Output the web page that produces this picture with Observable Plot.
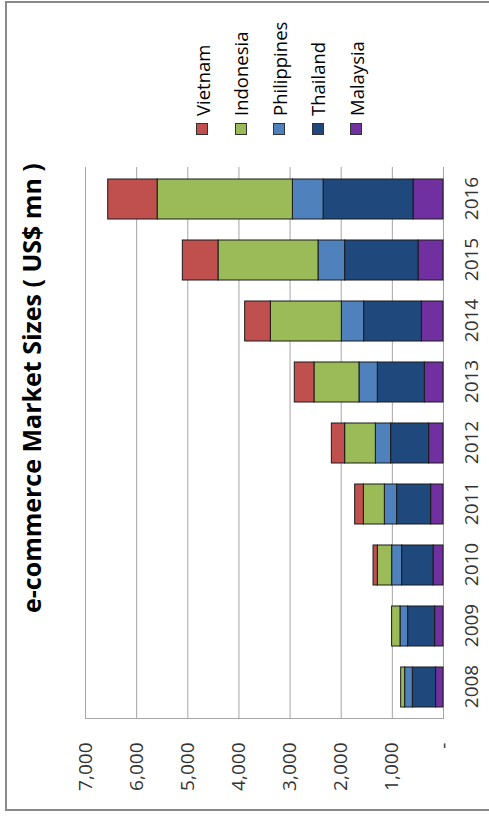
<!DOCTYPE html>
<html>
<head>
<meta charset="utf-8">
<script src="https://cdn.jsdelivr.net/npm/d3@7"></script>
<script src="https://cdn.jsdelivr.net/npm/@observablehq/plot@0.6"></script>
<style>
  html, body { margin: 0; padding: 0; background: #fff; overflow: hidden; width: 489px; height: 816px; }
  #rot { position: absolute; left: 0; top: 0; width: 816px; height: 489px; transform-origin: 0 0;
         transform: translate(0px, 816px) rotate(-90deg); font-family: "Open Sans", sans-serif; }
  #frame { position: absolute; left: 5px; top: 5px; width: 810px; height: 600px; box-sizing: border-box;
           border: 2px solid #8a8a8a; border-bottom: none; }
  #title { position: absolute; left: 203px; top: 19px; font-weight: bold; font-size: 25px; color: #000; white-space: nowrap; line-height: 1; }
  #legend { position: absolute; left: 681px; top: 183px; }
  .li { display: flex; align-items: center; height: 38.5px; font-size: 18.5px; color: #000; }
  .sw { width: 10px; height: 10px; border: 1px solid #333; margin-right: 7px; flex: none; }
  #chart { position: absolute; left: 0; top: 0; }
</style>
</head>
<body>
<div id="rot">
  <div id="frame"></div>
  <div id="title">e-commerce Market Sizes ( US$ mn )</div>
  <div id="legend"></div>
  <div id="chart"></div>
</div>
<script>
const years = ["2008","2009","2010","2011","2012","2013","2014","2015","2016"];
const countries = ["Vietnam","Indonesia","Philippines","Thailand","Malaysia"];
const colors = ["#C0504D","#9BBB59","#4F81BD","#1F497D","#7030A0"];
const vietnam     = [0, 0, 84, 170, 260, 385, 502, 698, 966];
const indonesia   = [78, 164, 280, 410, 600, 880, 1388, 1955, 2645];
const philippines = [150, 149, 195, 240, 299, 358, 436, 520, 600];
const thailand    = [455, 528, 614, 665, 743, 919, 1128, 1435, 1759];
const malaysia    = [145, 164, 195, 242, 281, 366, 424, 489, 586];
const valueTicks = [0, 1000, 2000, 3000, 4000, 5000, 6000, 7000];

const series = {Vietnam: vietnam, Indonesia: indonesia, Philippines: philippines, Thailand: thailand, Malaysia: malaysia};
const stackOrder = ["Malaysia","Thailand","Philippines","Indonesia","Vietnam"];
const data = [];
for (const c of stackOrder) years.forEach((y, i) => data.push({year: y, country: c, value: series[c][i]}));

const chart = Plot.plot({
  width: 816, height: 489,
  marginLeft: 97, marginRight: 167, marginTop: 85, marginBottom: 46,
  style: {fontFamily: "'Open Sans', sans-serif", background: "transparent", color: "#333"},
  x: {domain: years, paddingInner: 0.35, paddingOuter: 0.175, label: null},
  y: {domain: [0, 7000], label: null},
  color: {domain: countries, range: colors},
  marks: [
    Plot.ruleY(valueTicks, {stroke: "#a6a6a6", strokeWidth: 1}),
    Plot.frame({anchor: "left", stroke: "#a6a6a6"}),
    Plot.barY(data, Plot.stackY({order: stackOrder, x: "year", y: "value", fill: "country", stroke: "#1a1a1a", strokeWidth: 1})),
    Plot.axisX({tickSize: 0, tickPadding: 21, fontSize: 19, label: null}),
    Plot.axisY({ticks: valueTicks, tickSize: 0, tickPadding: 24, fontSize: 19, label: null,
                tickFormat: d => d === 0 ? "-" : d3.format(",")(d)})
  ]
});
document.getElementById("chart").appendChild(chart);

const legend = document.getElementById("legend");
countries.forEach((c, i) => {
  const row = document.createElement("div");
  row.className = "li";
  const sw = document.createElement("span");
  sw.className = "sw";
  sw.style.background = colors[i];
  const t = document.createElement("span");
  t.textContent = c;
  row.appendChild(sw); row.appendChild(t);
  legend.appendChild(row);
});
</script>
</body>
</html>
